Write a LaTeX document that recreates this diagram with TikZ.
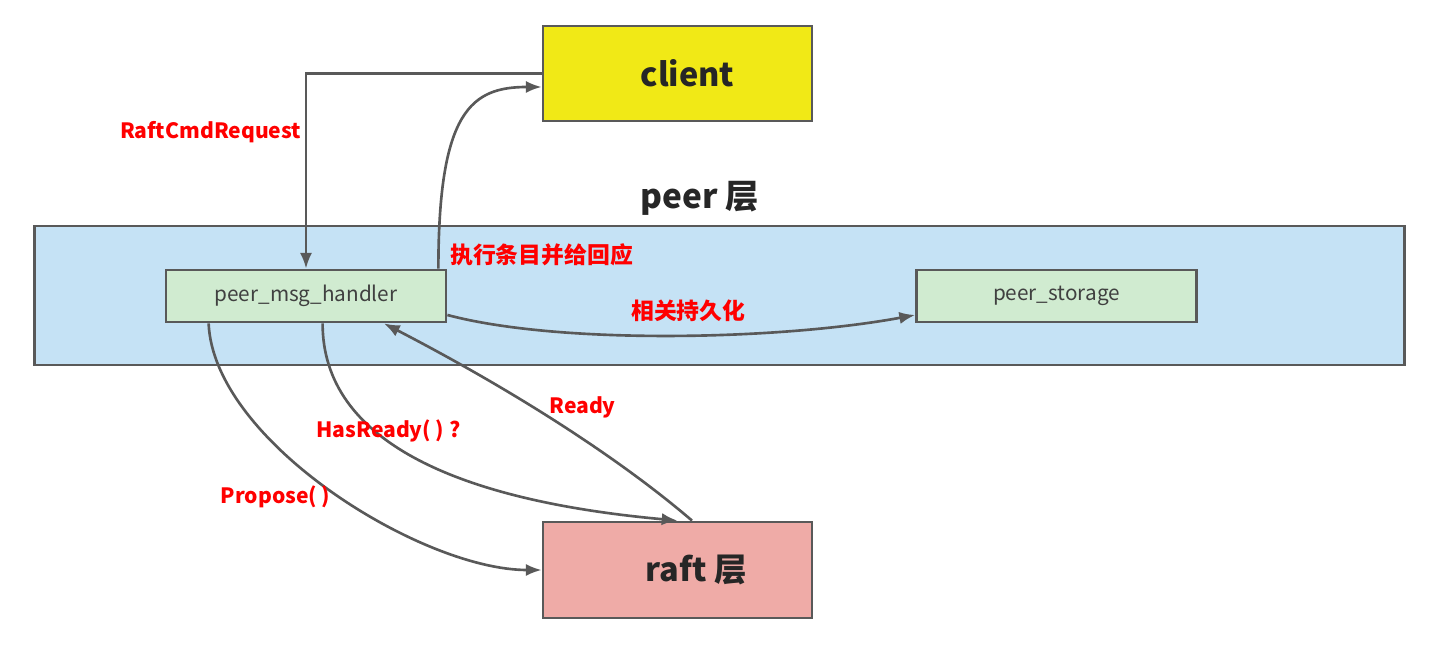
\documentclass[tikz,border=0pt]{standalone}
\usepackage{fontspec}
\setmainfont{Noto Sans CJK SC}
\usetikzlibrary{positioning,arrows.meta,calc}

\definecolor{linegray}{RGB}{89,89,89}
\definecolor{clientyellow}{RGB}{241,233,22}
\definecolor{peerblue}{RGB}{197,226,245}
\definecolor{modgreen}{RGB}{208,235,208}
\definecolor{raftpink}{RGB}{239,171,167}

\tikzset{
	layer/.style={draw=linegray, line width=1.6pt, inner sep=0pt,
		text=black!85, font=\bfseries\fontsize{18.5}{22}\selectfont,
		execute at begin node=\hspace*{0.4cm}},
	module/.style={draw=linegray, line width=1.6pt, fill=modgreen, inner sep=0pt,
		minimum width=5.6cm, minimum height=1.04cm,
		text=black!75, font=\fontsize{11.8}{14}\selectfont},
	link/.style={draw=linegray, line width=1.5pt, ->},
	msg/.style={text=red, inner sep=2pt, font=\bfseries\fontsize{12}{15}\selectfont},
	cjkmsg/.style={msg, font=\bfseries\fontsize{13}{16}\selectfont}
}

\begin{document}
\begin{tikzpicture}[>={Latex[length=9pt,width=7pt]}, x=0.02cm, y=-0.02cm]
	\useasboundingbox (0,0) rectangle (1435,661);

	\node[draw=linegray, line width=1.6pt, fill=peerblue,
		  minimum width=27.42cm, minimum height=2.78cm]
		  (Peer) at (719.5,295.5) {};
	\node[text=black!85, font=\bfseries\fontsize{19}{23}\selectfont]
		  (PeerTitle) at (700,198) {peer 层};
	\node[layer, fill=clientyellow, minimum width=5.38cm, minimum height=1.9cm]
		  (Client) at (677.5,73.5) {client};
	\node[module] (Handler) at (306,296) {peer\_msg\_handler};
	\node[module] (Storage) at (1056.5,296) {peer\_storage};
	\node[layer, fill=raftpink, minimum width=5.38cm, minimum height=1.92cm,
		  execute at begin node=\hspace*{0.35cm}]
		  (Raft) at (677.5,570) {raft 层};

	\draw[link] (Client.west) -| node[msg,left,pos=0.65]{RaftCmdRequest} (Handler.north);
	\draw[link] ([xshift=-0.18cm]Handler.north east) .. controls +(0,-158) and +(-70,0) ..
		([yshift=-0.27cm]Client.west) node[cjkmsg,anchor=west,pos=0.03,xshift=0.14cm]{执行条目并给回应};
	\draw[link] ([yshift=-0.38cm]Handler.east) .. controls +(113,30) and +(-135,25) ..
		([yshift=-0.38cm]Storage.west) node[cjkmsg,above=0.18cm,pos=0.52,xshift=0.1cm]{相关持久化};
	\draw[link] ([xshift=0.88cm]Handler.south west) .. controls +(5,118) and +(-120,0) ..
		(Raft.west) node[msg,anchor=east,pos=0.52,xshift=-0.1cm]{Propose( )};
	\draw[link] ([xshift=3.16cm]Handler.south west) .. controls +(0,118) and +(-220,-20) ..
		(Raft.north) node[msg,pos=0.37,xshift=0.26cm]{HasReady( ) ?};
	\draw[link] ([xshift=0.29cm]Raft.north) .. controls +(-70,-60) and +(135,70) ..
		([xshift=1.56cm]Handler.south) node[msg,above=0.18cm,pos=0.47,xshift=0.22cm]{Ready};
\end{tikzpicture}
\end{document}
